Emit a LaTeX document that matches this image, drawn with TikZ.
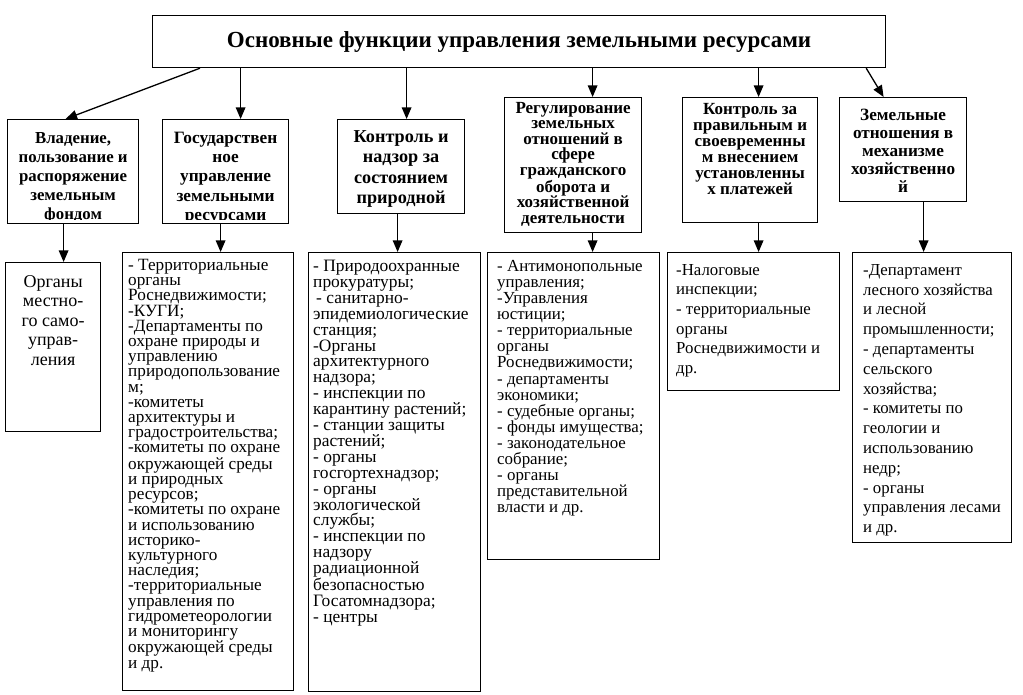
\documentclass[tikz,border=0pt]{standalone}
\usepackage{fontspec}
\setmainfont{Liberation Serif}
\usetikzlibrary{arrows.meta}

\begin{document}
\begin{tikzpicture}[x=1pt, y=-1pt,
    box/.style={draw, line width=1.2pt, inner sep=0pt, anchor=north west},
    head/.style 2 args={font=\bfseries\fontsize{#1}{#2}\selectfont, align=center, anchor=north, inner sep=0pt},
    list/.style 2 args={font=\fontsize{#1}{#2}\selectfont, align=left, anchor=north west, inner sep=0pt},
    arrow/.style={line width=1.3pt, -{Triangle[width=9.5pt, length=11.5pt]}}]
    \useasboundingbox (0,0) rectangle (1023,695);
    % Title
    \node[box, minimum width=733pt, minimum height=52pt,
        font=\bfseries\fontsize{23}{26}\selectfont] (title) at (152,15)
        {Основные функции управления земельными ресурсами};
    % Functions
    \node[box, minimum width=131pt, minimum height=104pt] (b1) at (7,119) {};
    \node[box, minimum width=126pt, minimum height=104pt] (b2) at (162,119) {};
    \node[box, minimum width=127pt, minimum height=94pt] (b3) at (337,119) {};
    \node[box, minimum width=137pt, minimum height=135pt] (b4) at (504,97) {};
    \node[box, minimum width=135pt, minimum height=125pt] (b5) at (682,97) {};
    \node[box, minimum width=127pt, minimum height=104pt] (b6) at (839,97) {};
    \begin{scope}
        \clip ([yshift=5pt]b1.south west) rectangle (b1.north east);
        \node[head={16.8}{19.2}] (f1) at ([yshift=-13pt]b1.north)
            {Владение,\\ пользование и\\ распоряжение\\ земельным\\ фондом};
    \end{scope}
    \begin{scope}
        \clip ([yshift=5pt]b2.south west) rectangle (b2.north east);
        \node[head={17.3}{19.2}] (f2) at ([yshift=-13pt]b2.north)
            {Государствен\\ ное\\ управление\\ земельными\\ ресурсами};
    \end{scope}
    \node[head={18.2}{20.5}] (f3) at ([yshift=-11pt]b3.north)
        {Контроль и\\ надзор за\\ состоянием\\ природной};
    \node[head={17}{15.5}] (f4) at ([yshift=-5pt]b4.north)
        {Регулирование\\ земельных\\ отношений в\\ сфере\\ гражданского\\
        оборота и\\ хозяйственной\\ деятельности};
    \node[head={17}{16}] (f5) at ([yshift=-6.5pt]b5.north)
        {Контроль за\\ правильным и\\ своевременны\\ м внесением\\
        установленны\\ х платежей};
    \node[head={17.2}{18}] (f6) at ([yshift=-12pt]b6.north)
        {Земельные\\ отношения в\\ механизме\\ хозяйственно\\ й};
    % Bodies
    \node[box, minimum width=95pt, minimum height=169pt] (c1) at (5,262) {};
    \node[box, minimum width=171pt, minimum height=438pt] (c2) at (122,252) {};
    \node[box, minimum width=172pt, minimum height=439pt] (c3) at (308,252) {};
    \node[box, minimum width=172pt, minimum height=307pt] (c4) at (487,252) {};
    \node[box, minimum width=172pt, minimum height=138pt] (c5) at (667,252) {};
    \node[box, minimum width=159pt, minimum height=290pt] (c6) at (852,252) {};
    \node[list={18}{19.5}, align=center, anchor=north] (o1) at ([yshift=-13pt]c1.north)
        {Органы\\ местно-\\ го само-\\ управ-\\ ления};
    \node[list={17.2}{15.2}] (o2) at ([xshift=6pt, yshift=-7pt]c2.north west)
        {- Территориальные\\ органы\\ Роснедвижимости;\\ -КУГИ;\\
        -Департаменты по\\ охране природы и\\ управлению\\
        природопользование\\ м;\\ -комитеты\\ архитектуры и\\
        градостроительства;\\ -комитеты по охране\\ окружающей среды\\
        и природных\\ ресурсов;\\ -комитеты по охране\\ и использованию\\
        историко-\\ культурного\\ наследия;\\ -территориальные\\
        управления по\\ гидрометеорологии\\ и мониторингу\\
        окружающей среды\\ и др.};
    \node[list={17.4}{15.9}] (o3) at ([xshift=5pt, yshift=-8pt]c3.north west)
        {- Природоохранные\\ прокуратуры;\\ \hspace*{3pt}- санитарно-\\
        эпидемиологические\\ станция;\\ -Органы\\ архитектурного\\
        надзора;\\ - инспекции по\\ карантину растений;\\
        - станции защиты\\ растений;\\ - органы\\ госгортехнадзор;\\
        - органы\\ экологической\\ службы;\\ - инспекции по\\ надзору\\
        радиационной\\ безопасностью\\ Госатомнадзора;\\ - центры};
    \node[list={16.9}{16.1}] (o4) at ([xshift=10pt, yshift=-8pt]c4.north west)
        {- Антимонопольные\\ управления;\\ -Управления\\ юстиции;\\
        - территориальные\\ органы\\ Роснедвижимости;\\ - департаменты\\
        экономики;\\ - судебные органы;\\ - фонды имущества;\\
        - законодательное\\ собрание;\\ - органы\\ представительной\\
        власти и др.};
    \node[list={16.8}{19.6}] (o5) at ([xshift=9pt, yshift=-12pt]c5.north west)
        {-Налоговые\\ инспекции;\\ - территориальные\\ органы\\
        Роснедвижимости и\\ др.};
    \node[list={16.8}{19.8}] (o6) at ([xshift=11pt, yshift=-12pt]c6.north west)
        {-Департамент\\ лесного хозяйства\\ и лесной\\ промышленности;\\
        - департаменты\\ сельского\\ хозяйства;\\ - комитеты по\\
        геологии и\\ использованию\\ недр;\\ - органы\\
        управления лесами\\ и др.};
    % Arrows
    \draw[arrow] ([xshift=48pt]title.south west) -- ([xshift=-7.5pt]b1.north);
    \draw[arrow] ([xshift=15pt]b2.north |- title.south) -- ([xshift=15pt]b2.north);
    \draw[arrow] ([xshift=5.5pt]b3.north |- title.south) -- ([xshift=5.5pt]b3.north);
    \draw[arrow] ([xshift=19.5pt]b4.north |- title.south) -- ([xshift=19.5pt]b4.north);
    \draw[arrow] ([xshift=8.5pt]b5.north |- title.south) -- ([xshift=8.5pt]b5.north);
    \draw[arrow] ([xshift=-20pt]title.south east) -- ([xshift=-19.5pt]b6.north);
    \draw[arrow] ([xshift=-9.5pt]b1.south) -- ([xshift=-9.5pt]b1.south |- c1.north);
    \draw[arrow] ([xshift=-5pt]b2.south) -- ([xshift=-5pt]b2.south |- c2.north);
    \draw[arrow] ([xshift=-3.5pt]b3.south) -- ([xshift=-3.5pt]b3.south |- c3.north);
    \draw[arrow] ([xshift=19.5pt]b4.south) -- ([xshift=19.5pt]b4.south |- c4.north);
    \draw[arrow] ([xshift=8.5pt]b5.south) -- ([xshift=8.5pt]b5.south |- c5.north);
    \draw[arrow] ([xshift=20.5pt]b6.south) -- ([xshift=20.5pt]b6.south |- c6.north);
\end{tikzpicture}
\end{document}
